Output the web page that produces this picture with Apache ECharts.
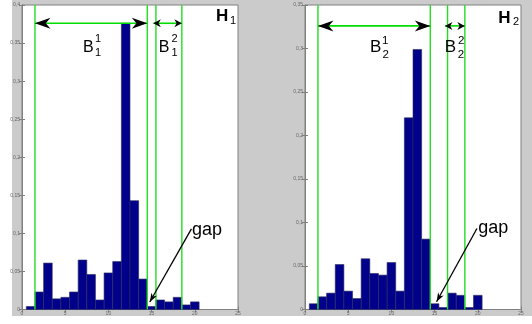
<!DOCTYPE html>
<html>
<head>
<meta charset="utf-8">
<script src="https://cdn.jsdelivr.net/npm/echarts@6/dist/echarts.min.js"></script>
<style>
  html, body { margin: 0; padding: 0; background: #fff; }
  #chart { width: 532px; height: 324px; }
</style>
</head>
<body>
<div id="chart"></div>
<script>
// bin centres of the histograms (bin width 1)
const binCenters = [1, 2, 3, 4, 5, 6, 7, 8, 9, 10, 11, 12, 13, 14, 15, 16, 17, 18, 19, 20]
// normalised histogram H1 (left) and H2 (right)
const h1Values = [0.004, 0.023, 0.061, 0.014, 0.016, 0.023, 0.065, 0.046, 0.0125, 0.048,
  0.063, 0.376, 0.143, 0.040, 0.004, 0.0125, 0.010, 0.016, 0.006, 0.010]
const h2Values = [0.0066, 0.0146, 0.0188, 0.0517, 0.0211, 0.0126, 0.0583, 0.0414, 0.0395, 0.054,
  0.0211, 0.2203, 0.2989, 0.0809, 0.0066, 0.0023, 0.0188, 0.0163, 0.0023, 0.0163]
// band borders (green lines): B^1 = [b0, b1], B^2 = [b2, b3]
const h1Bounds = [1.5, 14.5, 15.5, 18.5]
const h2Bounds = [1.5, 14.5, 16.5, 18.5]
const xMax = 25
const h1YMax = 0.4
const h2YMax = 0.35
const tickStep = 0.05

const GREEN = '#00dd00'
const AXIS = '#808080'
const FONT = '"Liberation Sans", Arial, sans-serif'

const chart = echarts.init(document.getElementById('chart'))

const fmt = v => String(+v.toFixed(2)).replace('.', ',')

function xAxes(gridIndex) {
  const base = {
    type: 'value', gridIndex, min: 0, max: xMax, interval: 5,
    axisLine: { show: true, lineStyle: { color: AXIS, width: 1 } },
    axisTick: { show: true, inside: true, length: 3, lineStyle: { color: AXIS } },
    splitLine: { show: false }
  }
  return [
    { ...base, position: 'bottom',
      axisLabel: { fontSize: 5, color: '#666', margin: 2, fontFamily: FONT } },
    { ...base, position: 'top', axisLabel: { show: false } }
  ]
}

function yAxes(gridIndex, max) {
  const base = {
    type: 'value', gridIndex, min: 0, max, interval: tickStep,
    axisLine: { show: true, lineStyle: { color: AXIS, width: 1 } },
    axisTick: { show: true, inside: true, length: 3, lineStyle: { color: AXIS } },
    splitLine: { show: false }
  }
  return [
    { ...base, position: 'left',
      axisLabel: { fontSize: 5, color: '#666', margin: 2, fontFamily: FONT, formatter: fmt } },
    { ...base, position: 'right', axisLabel: { show: false } }
  ]
}

function histSeries(values, xAxisIndex, yAxisIndex) {
  return {
    type: 'custom',
    xAxisIndex, yAxisIndex,
    data: binCenters.map((c, i) => [c, values[i]]),
    renderItem(params, api) {
      const x = api.value(0)
      const y = api.value(1)
      const p0 = api.coord([x - 0.5, y])
      const p1 = api.coord([x + 0.5, 0])
      return {
        type: 'rect',
        shape: { x: p0[0], y: p0[1], width: p1[0] - p0[0], height: p1[1] - p0[1] },
        style: { fill: '#00008b', stroke: '#2b2b5c', lineWidth: 0.6 }
      }
    },
    z: 2
  }
}

// arrow head polygon with notched back, tip at p, pointing away from `from`
function head(p, from, len, half) {
  const dx = p[0] - from[0], dy = p[1] - from[1]
  const d = Math.hypot(dx, dy) || 1
  const ux = dx / d, uy = dy / d
  const nx = -uy, ny = ux
  const bx = p[0] - ux * len, by = p[1] - uy * len
  const mx = p[0] - ux * len * 0.7, my = p[1] - uy * len * 0.7
  return {
    type: 'polygon',
    shape: { points: [p, [bx + nx * half, by + ny * half], [mx, my], [bx - nx * half, by - ny * half]] },
    style: { fill: '#000' }
  }
}

function doubleArrow(api, a, b, y, len, half) {
  const p0 = api.coord([a, y])
  const p1 = api.coord([b, y])
  return [
    { type: 'line', shape: { x1: p0[0], y1: p0[1], x2: p1[0], y2: p1[1] },
      style: { stroke: GREEN, lineWidth: 1.6 } },
    head(p0, p1, len, half),
    head(p1, p0, len, half)
  ]
}

function annotationSeries(opts, xAxisIndex, yAxisIndex) {
  return {
    type: 'custom',
    xAxisIndex, yAxisIndex,
    clip: false, silent: true,
    data: [[0, 0]],
    renderItem(params, api) {
      const kids = []
      // band borders across the full plot height
      opts.bounds.forEach(b => {
        const top = api.coord([b, opts.yMax])
        const bot = api.coord([b, 0])
        kids.push({ type: 'line', shape: { x1: top[0], y1: top[1], x2: bot[0], y2: bot[1] },
          style: { stroke: '#22dd22', lineWidth: 1.4 } })
      })
      doubleArrow(api, opts.big[0], opts.big[1], opts.arrowY, 15.5, 5.5).forEach(k => kids.push(k))
      doubleArrow(api, opts.small[0], opts.small[1], opts.arrowY, 7.5, 4).forEach(k => kids.push(k))
      const g0 = api.coord(opts.gapFrom)
      const g1 = api.coord(opts.gapTo)
      kids.push({ type: 'line', shape: { x1: g0[0], y1: g0[1], x2: g1[0], y2: g1[1] },
        style: { stroke: '#000', lineWidth: 1.3 } })
      kids.push(head(g1, g0, 9, 3.2))
      return { type: 'group', children: kids }
    },
    z: 5
  }
}

function label(text, x, y, size, extra) {
  return {
    type: 'text', x, y, z: 100,
    style: Object.assign({ text, fontSize: size, fontFamily: FONT, fill: '#000',
      align: 'left', verticalAlign: 'middle' }, extra || {})
  }
}

chart.setOption({
  backgroundColor: '#fff',
  animation: false,
  grid: [
    { left: 22, top: 5, width: 216, height: 304.5, show: true, backgroundColor: '#fff',
      borderColor: AXIS, borderWidth: 1 },
    { left: 305, top: 5, width: 216, height: 304.5, show: true, backgroundColor: '#fff',
      borderColor: AXIS, borderWidth: 1 }
  ],
  xAxis: [...xAxes(0), ...xAxes(1)],
  yAxis: [...yAxes(0, h1YMax), ...yAxes(1, h2YMax)],
  series: [
    histSeries(h1Values, 0, 0),
    histSeries(h2Values, 2, 2),
    annotationSeries({ bounds: h1Bounds, yMax: h1YMax,
      big: [h1Bounds[0], h1Bounds[1]], small: [15.2, h1Bounds[3]], arrowY: 0.376,
      gapFrom: [19.61, 0.106], gapTo: [14.79, 0.0098] }, 0, 0),
    annotationSeries({ bounds: h2Bounds, yMax: h2YMax,
      big: [h2Bounds[0], h2Bounds[1]], small: [16.2, h2Bounds[3]], arrowY: 0.326,
      gapFrom: [19.9, 0.0931], gapTo: [15.23, 0.0089] }, 2, 2)
  ],
  graphic: [
    { type: 'rect', z: -100, shape: { x: 12, y: 0, width: 520, height: 316 },
      style: { fill: '#cbcbcb' } },
    // left panel
    label('B', 83, 47.5, 16),
    label('1', 98, 38.6, 11, { align: 'center' }),
    label('1', 98, 52.8, 11, { align: 'center' }),
    label('B', 158.8, 47.5, 16),
    label('2', 174.5, 38.6, 11, { align: 'center' }),
    label('1', 174.5, 52.8, 11, { align: 'center' }),
    label('H', 216.1, 16.7, 17, { fontWeight: 'bold' }),
    label('1', 233, 21.2, 11, { align: 'center' }),
    label('gap', 192, 229.7, 18),
    // right panel
    label('B', 370, 47.5, 17),
    label('1', 385.3, 40.5, 11.5, { align: 'center' }),
    label('2', 385.8, 54.4, 11.5, { align: 'center' }),
    label('B', 444.8, 47.5, 17),
    label('2', 461.2, 40.5, 11.5, { align: 'center' }),
    label('2', 461, 54.4, 11.5, { align: 'center' }),
    label('H', 498.2, 18.2, 17, { fontWeight: 'bold' }),
    label('2', 516, 22.2, 11, { align: 'center' }),
    label('gap', 478.3, 227.7, 18)
  ]
})
</script>
</body>
</html>
